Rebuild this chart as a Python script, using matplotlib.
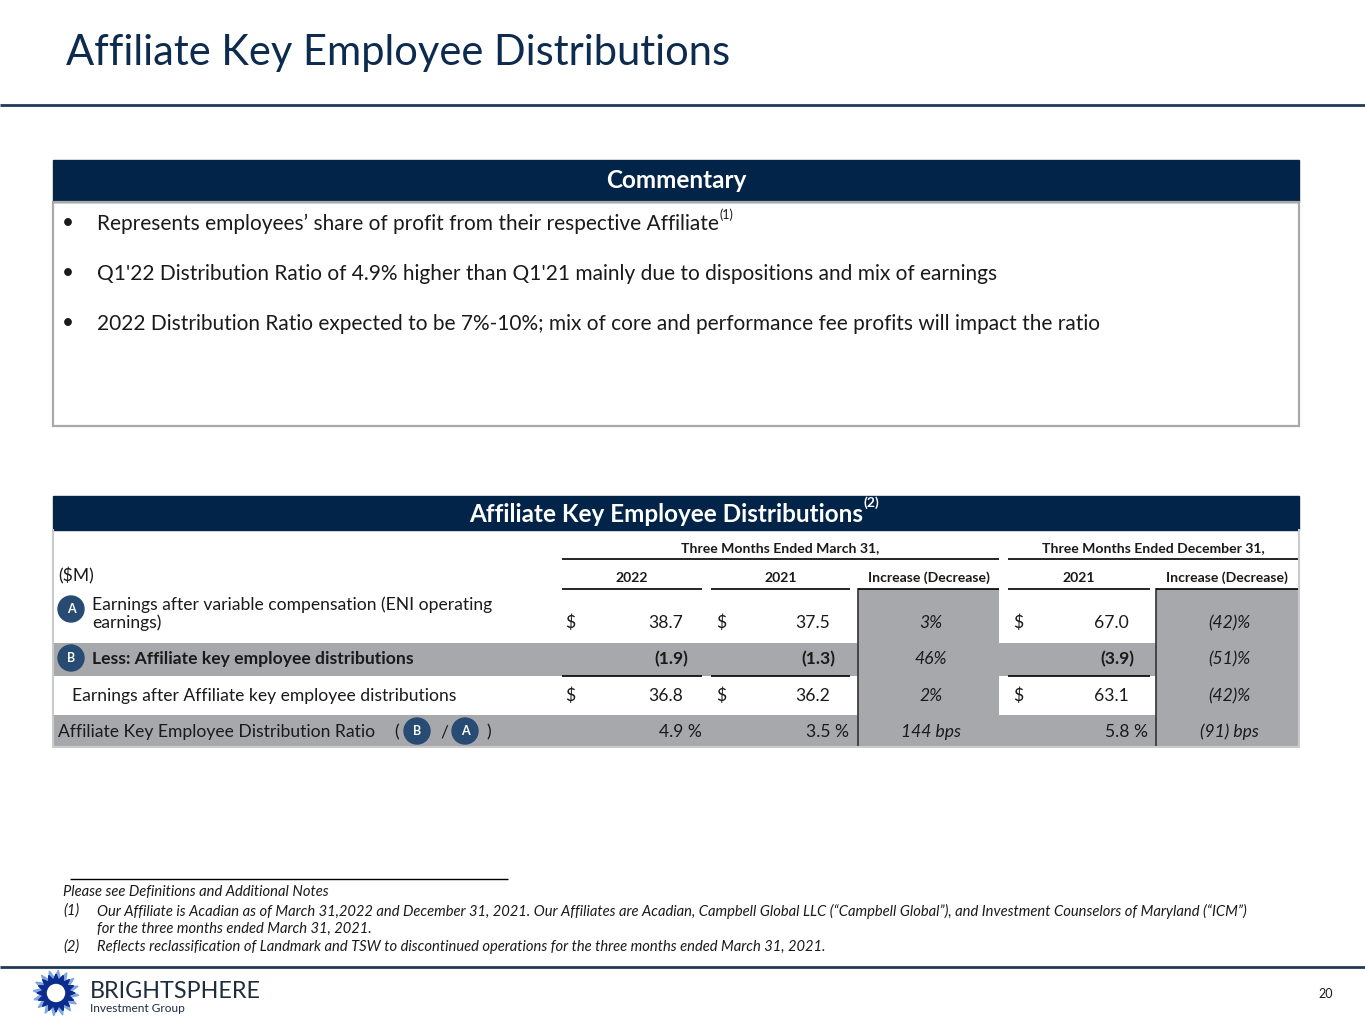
import numpy as np
import matplotlib.pyplot as plt
from matplotlib.patches import Rectangle, Circle, Polygon

plt.rcParams["font.family"] = ["Lato", "DejaVu Sans"]

NAVY = "#022449"
TITLE = "#0D2B4E"
GRAY = "#A6A8AB"
INK = "#1A1A1A"

title = "Affiliate Key Employee Distributions"
bullets = [
    "Represents employees\u2019 share of profit from their respective Affiliate",
    "Q1'22 Distribution Ratio of 4.9% higher than Q1'21 mainly due to dispositions and mix of earnings",
    "2022 Distribution Ratio expected to be 7%-10%; mix of core and performance fee profits will impact the ratio",
]
bullet_notes = ["(1)", None, None]

group_headers = ["Three Months Ended March 31,", "Three Months Ended December 31,"]
col_headers = ["2022", "2021", "Increase (Decrease)", "2021", "Increase (Decrease)"]
row_labels = [
    "Earnings after variable compensation (ENI operating\nearnings)",
    "Less: Affiliate key employee distributions",
    "Earnings after Affiliate key employee distributions",
    "Affiliate Key Employee Distribution Ratio",
]
row_markers = ["A", "B", None, None]
q1_2022 = [38.7, -1.9, 36.8, 4.9]
q1_2021 = [37.5, -1.3, 36.2, 3.5]
q1_change = [3, 46, 2, 144]
q4_2021 = [67.0, -3.9, 63.1, 5.8]
q4_change = [-42, -51, -42, -91]

footnotes = [
    ("", "Please see Definitions and Additional Notes"),
    ("(1)", "Our Affiliate is Acadian as of March 31,2022 and December 31, 2021. Our Affiliates are Acadian, "
            "Campbell Global LLC (\u201cCampbell Global\u201d), and Investment Counselors of Maryland (\u201cICM\u201d)"),
    ("", "for the three months ended March 31, 2021."),
    ("(2)", "Reflects reclassification of Landmark and TSW to discontinued operations for the three months ended March 31, 2021."),
]

FS = 12.6  # table body font size


def fmt_value(v, row):
    if row == 3:
        return f"{v:.1f} %"
    if v < 0:
        return f"({abs(v):.1f})"
    return f"{v:.1f}"


def fmt_change(v, row):
    if row == 3:
        return f"({abs(v)}) bps" if v < 0 else f"{v} bps"
    return f"({abs(v)})%" if v < 0 else f"{v}%"


def hline(ax, y, x0, x1, color="black", lw=1.2):
    ax.plot([x0, x1], [y, y], color=color, lw=lw, solid_capstyle="butt")


def marker(ax, x, y, letter, r=13):
    ax.add_patch(Circle((x, y), r, color="#274B72", zorder=5))
    ax.text(x, y, letter, color="white", fontsize=9, fontweight="bold",
            ha="center", va="center", zorder=6)


fig = plt.figure(figsize=(13.65, 10.24), dpi=100)
ax = fig.add_axes([0, 0, 1, 1])
ax.set_xlim(0, 1365)
ax.set_ylim(1024, 0)
ax.axis("off")
renderer = fig.canvas.get_renderer()


def right_edge(t):
    bb = t.get_window_extent(renderer)
    return ax.transData.inverted().transform((bb.x1, bb.y1))[0]


# title
ax.text(66, 53, title, fontsize=30, color=TITLE, va="center", ha="left")
hline(ax, 105, 0, 1365, color="#1F3A5A", lw=2)

# commentary box
ax.add_patch(Rectangle((53, 160), 1246, 42, color=NAVY))
ax.text(676, 181, "Commentary", fontsize=17.5, fontweight="bold", color="white", ha="center", va="center")
ax.add_patch(Rectangle((53, 202), 1246, 224, fill=False, ec="#A9A9A9", lw=1.6))
for i, (b, note) in enumerate(zip(bullets, bullet_notes)):
    y = 223.5 + 50 * i
    ax.text(68, y, "\u2022", fontsize=15, color=INK, ha="center", va="center")
    t = ax.text(97, y, b, fontsize=15, color=INK, ha="left", va="center")
    if note:
        ax.text(right_edge(t) + 1, y - 9, note, fontsize=9, color=INK, ha="left", va="center")

# table header
ax.add_patch(Rectangle((53, 496), 1246, 34, color=NAVY))
t = ax.text(666, 514, "Affiliate Key Employee Distributions", fontsize=17.5, fontweight="bold",
            color="white", ha="center", va="center")
ax.text(right_edge(t) + 1, 503, "(2)", fontsize=10, fontweight="bold", color="white", ha="left", va="center")

# grey bands
row_bands = [(590, 643), (643, 676), (676, 715), (715, 746)]
gray_cols = [(858, 999), (1156, 1298)]
for r, (y0, y1) in enumerate(row_bands):
    if r in (1, 3):
        ax.add_patch(Rectangle((53, y0), 1246, y1 - y0, color=GRAY, lw=0))
for x0, x1 in gray_cols:
    ax.add_patch(Rectangle((x0, 589), x1 - x0, 157, color=GRAY, lw=0))
for x in (858, 1155.5):
    ax.plot([x, x], [589, 746], color="#333333", lw=1.2)

# table border
ax.plot([53, 53, 1299, 1299], [530, 746.5, 746.5, 530], color="#C9CACC", lw=1.5)

# column headers
group_spans = [(562, 999), (1008, 1298)]
for text, (x0, x1) in zip(group_headers, group_spans):
    ax.text((x0 + x1) / 2, 548, text, fontsize=10.1, fontweight="bold", color=INK, ha="center", va="center")
    hline(ax, 559, x0, x1)
col_spans = [(562, 702), (711, 850), (858, 999), (1008, 1150), (1156, 1298)]
for text, (x0, x1) in zip(col_headers, col_spans):
    ax.text((x0 + x1) / 2, 578, text, fontsize=10.1, fontweight="bold", color=INK, ha="center", va="center")
    hline(ax, 589, x0, x1)
ax.text(58, 576, "($M)", fontsize=FS, color=INK, ha="left", va="center")

# rows
row_y = [623, 659, 696, 732]
value_cols = [(q1_2022, 565, 683), (q1_2021, 716, 830), (q4_2021, 1013, 1129)]
change_cols = [(q1_change, 931), (q4_change, 1229)]
row_shift = [0, 5, 0, 19]
for r, label in enumerate(row_labels):
    y = row_y[r]
    bold = "bold" if r == 1 else "normal"
    if row_markers[r]:
        marker(ax, 71, 609 if r == 0 else y - 1, row_markers[r])
        ax.text(92, 613.5 if r == 0 else y, label, fontsize=FS, fontweight=bold, color=INK,
                ha="left", va="center", linespacing=1.08)
    elif r == 2:
        ax.text(72, y, label, fontsize=FS, color=INK, ha="left", va="center")
    else:
        ax.text(58, y, label, fontsize=FS, color=INK, ha="left", va="center")
        ax.text(397, y, "(", fontsize=FS, color=INK, ha="center", va="center")
        marker(ax, 417, y - 1, "B")
        ax.text(444, y, "/", fontsize=FS, color=INK, ha="center", va="center")
        marker(ax, 465, y - 1, "A")
        ax.text(489, y, ")", fontsize=FS, color=INK, ha="center", va="center")
    for vals, xd, xr in value_cols:
        if r in (0, 2):
            ax.text(xd, y, "$", fontsize=FS, color=INK, ha="left", va="center")
        ax.text(xr + row_shift[r], y, fmt_value(vals[r], r), fontsize=FS, fontweight=bold,
                color=INK, ha="right", va="center")
    for vals, xc in change_cols:
        ax.text(xc, y, fmt_change(vals[r], r), fontsize=FS, fontstyle="italic",
                color=INK, ha="center", va="center")

for x0, x1 in [(562, 702), (711, 850), (1008, 1150)]:
    hline(ax, 675.5, x0, x1)

# footnotes
hline(ax, 879, 70, 508, lw=1)
foot_y = [892, 911, 929, 947]
for (num, text), y in zip(footnotes, foot_y):
    if num:
        ax.text(63, y, num, fontsize=10.6, fontstyle="italic", color=INK, ha="left", va="center")
    ax.text(97 if (num or y == 929) else 63, y, text, fontsize=10.6, fontstyle="italic",
            color=INK, ha="left", va="center")
hline(ax, 967, 0, 1365, color="#1F3A5A", lw=2)

# logo
cx, cy = 56, 993
n = 16
ang = np.linspace(0, 2 * np.pi, 2 * n, endpoint=False)
rad = np.where(np.arange(2 * n) % 2 == 0, 23, 15)
ax.add_patch(Polygon(np.c_[cx + rad * np.cos(ang + 0.1), cy + rad * np.sin(ang + 0.1)], color="#7FA6E0"))
rad2 = np.where(np.arange(2 * n) % 2 == 0, 19, 13)
ax.add_patch(Polygon(np.c_[cx + rad2 * np.cos(ang), cy + rad2 * np.sin(ang)], color="#0B2C8C"))
ax.add_patch(Circle((cx, cy), 8.5, color="white"))
ax.text(90, 991, "BRIGHTSPHERE", fontsize=16.8, color="#1E2D3D", ha="left", va="center")
ax.text(90, 1009, "Investment Group", fontsize=8.6, color="#1E2D3D", ha="left", va="center")
ax.text(1326, 994, "20", fontsize=9, color=INK, ha="center", va="center")

fig.savefig("out.png", dpi=100)
